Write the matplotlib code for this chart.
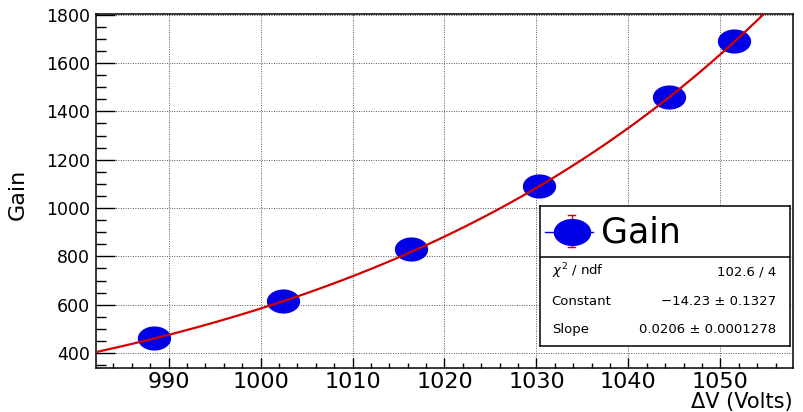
import numpy as np
import matplotlib
matplotlib.use('Agg')
import matplotlib.pyplot as plt
from matplotlib.ticker import MultipleLocator

voltage = [988.4, 1002.4, 1016.4, 1030.3, 1044.4, 1051.5]
gain = [463, 614, 831, 1090, 1458, 1693]

# expo fit parameters shown in the stats box
fit_constant = -14.23
fit_slope = 0.0206
stat_names = [r'$\chi^{2}$ / ndf', 'Constant', 'Slope']
stat_values = ['102.6 / 4', '\u221214.23 \u00b1 0.1327', '0.0206 \u00b1 0.0001278']

xlim = (982.1, 1057.9)
ylim = (338, 1803)

blue = '#0000e6'
red = '#d40000'

# ellipse shaped marker (the original image is stretched horizontally)
t = np.linspace(0, 2 * np.pi, 60)
ellipse = np.c_[1.38 * np.cos(t), np.sin(t)]

fig = plt.figure(figsize=(8.04, 4.12), dpi=100)
ax = fig.add_axes([96 / 804, 1 - 368 / 412, 697 / 804, 354 / 412])

xs = np.linspace(xlim[0], xlim[1], 300)
ax.plot(xs, np.exp(fit_constant + fit_slope * xs), color=red, lw=1.6, zorder=4)
ax.plot(voltage, gain, linestyle='none', marker=ellipse, markersize=24,
        color=blue, markeredgewidth=0, zorder=3)

ax.set_xlim(*xlim)
ax.set_ylim(*ylim)
ax.xaxis.set_major_locator(MultipleLocator(10))
ax.xaxis.set_minor_locator(MultipleLocator(2))
ax.yaxis.set_major_locator(MultipleLocator(200))
ax.yaxis.set_minor_locator(MultipleLocator(50))
ax.tick_params(axis='x', which='major', direction='in', length=7.2, width=1,
               labelsize=16, pad=3)
ax.tick_params(axis='x', which='minor', direction='in', length=3.6, width=1)
ax.tick_params(axis='y', which='major', direction='in', length=13.7, width=1,
               labelsize=12.5, pad=4.3)
ax.tick_params(axis='y', which='minor', direction='in', length=7.2, width=1)
ax.grid(True, which='major', color='#555555', linestyle=(0, (1, 1.5)), lw=0.7)
for s in ax.spines.values():
    s.set_linewidth(1.1)

ax.set_ylabel('Gain', fontsize=16)
ax.yaxis.set_label_coords(-0.098, 0.49)
ax.set_xlabel('\u0394V (Volts)', fontsize=15, ha='right')
ax.xaxis.set_label_coords(1.0, -0.068)

# stats / legend box
box = fig.add_axes([540 / 804, 1 - 346 / 412, 250 / 804, 140 / 412], zorder=5)
box.set_xlim(0, 1)
box.set_ylim(0, 1)
box.set_xticks([])
box.set_yticks([])
for s in box.spines.values():
    s.set_linewidth(1.1)
box.axhline(0.638, color='black', lw=1.1)

box.plot([0.02, 0.212], [0.816, 0.816], color=blue, lw=1)
box.plot([0.127, 0.127], [0.707, 0.936], color=red, lw=1)
box.plot([0.113, 0.141], [0.936, 0.936], color=red, lw=1)
box.plot([0.113, 0.141], [0.707, 0.707], color=red, lw=1)
box.plot([0.127], [0.816], linestyle='none', marker=ellipse, markersize=27,
         color=blue, markeredgewidth=0)
box.text(0.245, 0.81, 'Gain', fontsize=25, ha='left', va='center')

for name, val, y in zip(stat_names, stat_values, [0.531, 0.316, 0.119]):
    box.text(0.047, y, name, fontsize=9.5, ha='left', va='center')
    box.text(0.944, y, val, fontsize=9.5, ha='right', va='center')

fig.savefig('out.png', dpi=100)
